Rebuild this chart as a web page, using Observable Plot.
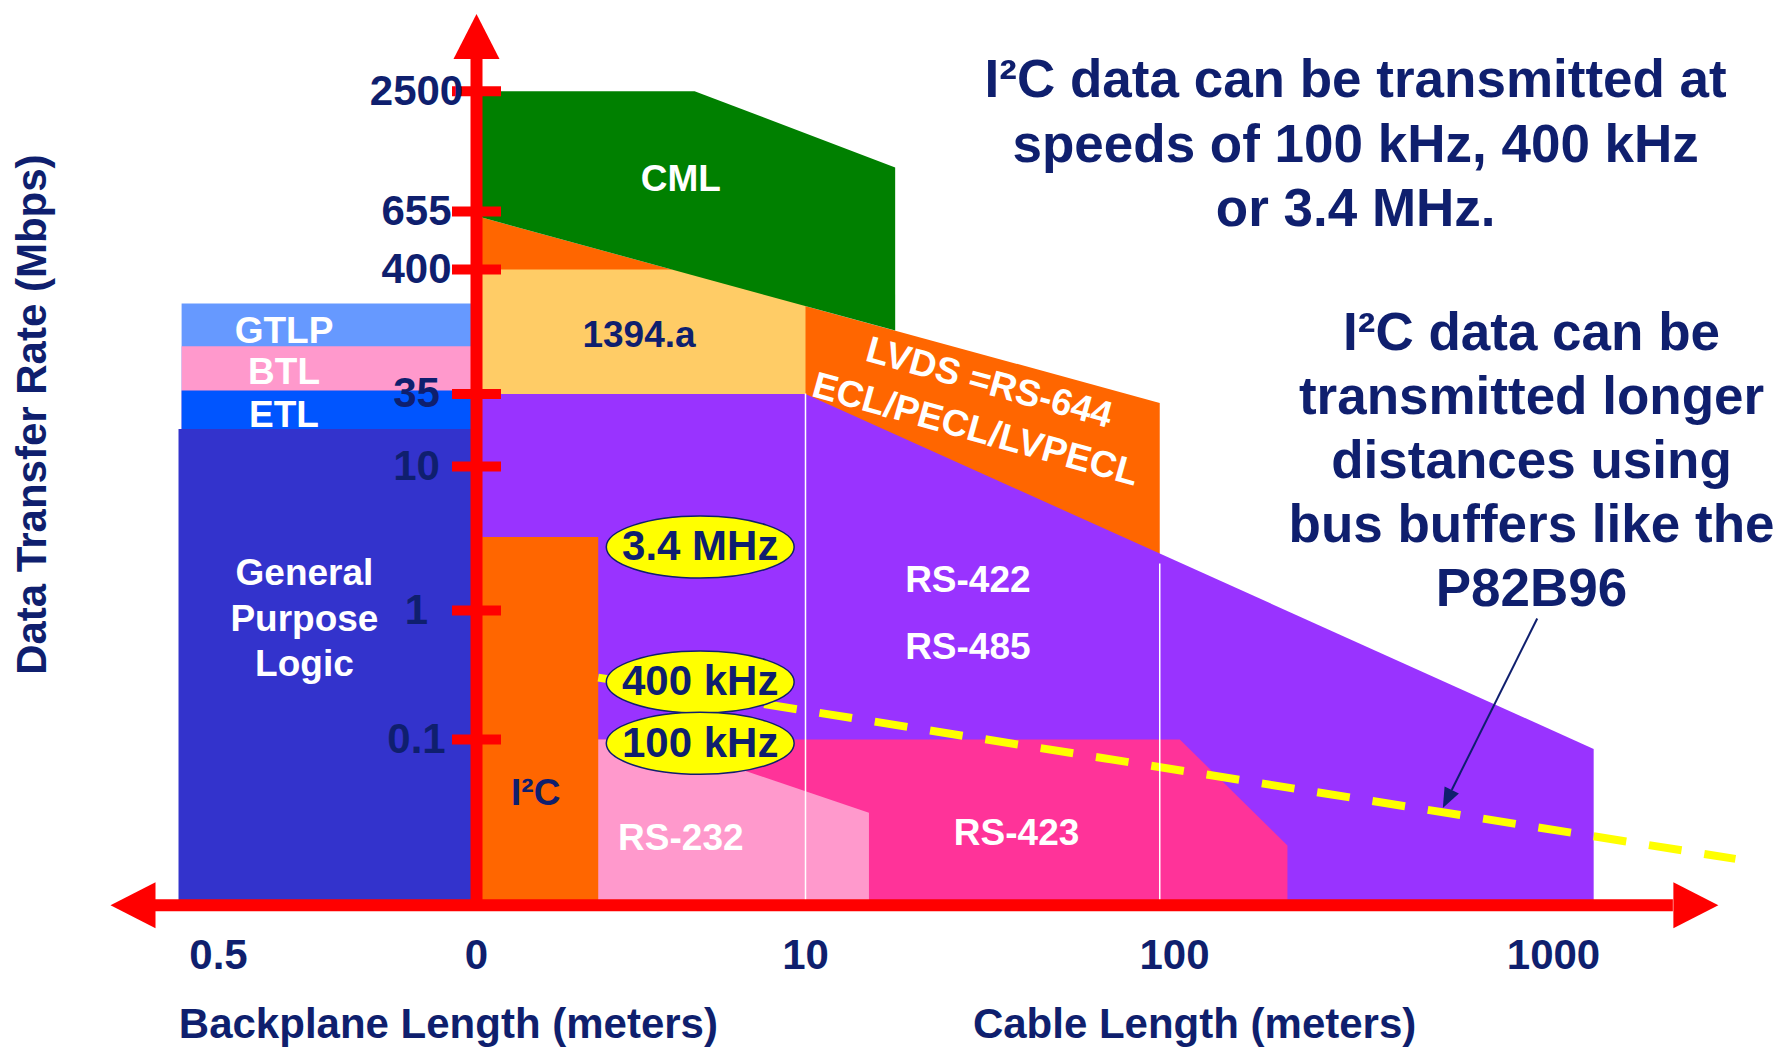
<!DOCTYPE html>
<html>
<head>
<meta charset="utf-8">
<script src="https://cdn.jsdelivr.net/npm/d3@7"></script>
<script src="https://cdn.jsdelivr.net/npm/@observablehq/plot@0.6"></script>
<style>
html, body { margin: 0; padding: 0; background: #ffffff; }
#chart svg { display: block; }
</style>
</head>
<body>
<div id="chart"></div>
<script>
// ---------------- DATA ----------------
// x: schematic axis position — -1 = 0.5 m backplane, 0 = origin, 1 = 10 m, 2 = 100 m, 3 = 1000 m cable
const xTickPos = [-1, 0, 1, 2, 3];
const xTickLabels = ["0.5", "0", "10", "100", "1000"];
// y: data transfer rate in Mbps
const yTickValues = [0.1, 1, 10, 35, 400, 655, 2500];
const yTickLabels = ["0.1", "1", "10", "35", "400", "655", "2500"];
const yFloor = 0.0052;           // rate at the horizontal axis
const axisTipTop = 5898;         // rate at the tip of the vertical arrow
const axisTipLeft = -1.4186;     // x position of the left arrow tip
const axisTipRight = 3.435;      // x position of the right arrow tip

// regions as [x position, Mbps] outlines
const gtlpShape  = [[-1.143, yFloor], [-1.143, 206], [0, 206], [0, yFloor]];
const btlShape   = [[-1.143, yFloor], [-1.143, 89], [0, 89], [0, yFloor]];
const etlShape   = [[-1.143, yFloor], [-1.143, 37.5], [0, 37.5], [0, yFloor]];
const gplShape   = [[-1.155, yFloor], [-1.155, 19.1], [0, 19.1], [0, yFloor]];
const lvdsShape  = [[0, 630], [1.96, 30], [1.96, 2.3], [0, 2.3]];
const fw1394Shape = [[0, 30], [0, 400], [1, 400], [1, 30]];
const rs422Shape = [[0, 35], [1, 35], [3.106, 0.0845], [3.106, yFloor], [0, yFloor]];
const cmlShape   = [[0, 630], [0, 2500], [0.663, 2500], [1.243, 1070], [1.243, 121]];
const rs423Shape = [[0.3, yFloor], [0.3, 0.1], [2.014, 0.1], [2.298, 0.0151], [2.298, yFloor]];
const rs232Shape = [[0.3, yFloor], [0.3, 0.1], [0.535, 0.1], [1.172, 0.027], [1.172, yFloor]];
const i2cShape   = [[0, yFloor], [0, 3.24], [0.37, 3.24], [0.37, yFloor]];
const busBufferLine = [[0.37, 0.302], [3.48, 0.01187]];
const separators = [{x: 1, top: 35}, {x: 1.96, top: 2.1}];
const speedBubbles = [
  {x: 0.68, y: 2.76, label: "3.4 MHz"},
  {x: 0.68, y: 0.279, label: "400 kHz"},
  {x: 0.68, y: 0.0934, label: "100 kHz"}
];
const pointerFrom = [2.957, 0.867];
const pointerTip = [2.708, 0.0295];

const whiteLabels = [
  {x: 0.621, y: 970, text: "CML"},
  {x: -0.746, y: 127, text: "GTLP"},
  {x: -0.746, y: 57, text: "BTL"},
  {x: -0.746, y: 25.6, text: "ETL"},
  {x: -0.667, y: 0.902, text: "General\nPurpose\nLogic"},
  {x: 0.621, y: 0.018, text: "RS-232"},
  {x: 1.44, y: 1.69, text: "RS-422"},
  {x: 1.44, y: 0.544, text: "RS-485"},
  {x: 1.572, y: 0.0197, text: "RS-423"}
];
const navyLabels = [
  {x: 0.494, y: 111, text: "1394.a"},
  {x: 0.18, y: 0.0384, text: "I²C"}
];
const slantedLabels = [
  {x: 1.498, y: 43.6, text: "LVDS =RS-644"},
  {x: 1.461, y: 19, text: "ECL/PECL/LVPECL"}
];
const notes = [
  {x: 2.478, y: 1435, text: "I²C data can be transmitted at\nspeeds of 100 kHz, 400 kHz\nor 3.4 MHz."},
  {x: 2.942, y: 11.7, text: "I²C data can be\ntransmitted longer\ndistances using\nbus buffers like the\nP82B96"}
];
const xTitles = [
  {x: -0.109, text: "Backplane Length (meters)"},
  {x: 2.053, text: "Cable Length (meters)"}
];
const yTitle = [{x: -1.721, y: 24.5, text: "Data Transfer Rate (Mbps)"}];

// ---------------- STYLE ----------------
const navy = "#0f1f6e";
const red = "#ff0000";
const font = "'Liberation Sans', Arial, Helvetica, sans-serif";
const fill = {
  gtlp: "#6699ff", btl: "#ff99cc", etl: "#0055ff", gpl: "#3333cc",
  lvds: "#ff6600", fw1394: "#ffcc66", rs422: "#9933ff", cml: "#008000",
  rs423: "#ff3399", rs232: "#ff99cc", i2c: "#ff6600", yellow: "#ffff00"
};
const xScale = {type: "linear", domain: xTickPos, range: [218, 476, 805, 1174, 1553], axis: null};
const yScale = {type: "log", domain: yTickValues, range: [739, 610, 466, 393.5, 269, 211, 90.7], axis: null};

// helpers working through the scales
const X = Plot.scale({x: xScale});
const Y = Plot.scale({y: yScale});
const toPx = ([a, b]) => [X.apply(a), Y.apply(b)];
const toData = ([a, b]) => [X.invert(a), Y.invert(b)];
function arrowHead(from, tip, len, half) {
  const [x0, y0] = toPx(from), [x1, y1] = toPx(tip);
  const d = Math.hypot(x1 - x0, y1 - y0), ux = (x1 - x0) / d, uy = (y1 - y0) / d;
  const bx = x1 - ux * len, by = y1 - uy * len;
  return {
    head: [[x1, y1], [bx - uy * half, by + ux * half], [bx + uy * half, by - ux * half]].map(toData),
    base: toData([bx, by])
  };
}
function offsetX(x, dpx) { return X.invert(X.apply(x) + dpx); }

const poly = (pts, color) => Plot.line(pts, {x: d => d[0], y: d => d[1], fill: color, stroke: "none"});

const ellipse = {
  draw(ctx, size) {
    const ry = Math.sqrt(size / Math.PI), rx = ry * 3.03, k = 0.5523;
    ctx.moveTo(rx, 0);
    ctx.bezierCurveTo(rx, k * ry, k * rx, ry, 0, ry);
    ctx.bezierCurveTo(-k * rx, ry, -rx, k * ry, -rx, 0);
    ctx.bezierCurveTo(-rx, -k * ry, -k * rx, -ry, 0, -ry);
    ctx.bezierCurveTo(k * rx, -ry, rx, -k * ry, rx, 0);
    ctx.closePath();
  }
};

const upArrow = arrowHead([0, yFloor], [0, axisTipTop], 45, 23);
const leftArrow = arrowHead([axisTipRight, yFloor], [axisTipLeft, yFloor], 45, 23);
const rightArrow = arrowHead([axisTipLeft, yFloor], [axisTipRight, yFloor], 45, 23);
const pointer = arrowHead(pointerFrom, pointerTip, 20, 8);

const txt = {fontFamily: font, fontWeight: "bold"};

const chart = Plot.plot({
  width: 1778,
  height: 1047,
  margin: 0,
  style: {background: "#ffffff", fontFamily: font},
  x: xScale,
  y: yScale,
  marks: [
    poly(gtlpShape, fill.gtlp),
    poly(btlShape, fill.btl),
    poly(etlShape, fill.etl),
    poly(gplShape, fill.gpl),
    poly(lvdsShape, fill.lvds),
    poly(fw1394Shape, fill.fw1394),
    poly(rs422Shape, fill.rs422),
    poly(cmlShape, fill.cml),
    poly(rs423Shape, fill.rs423),
    poly(rs232Shape, fill.rs232),
    poly(i2cShape, fill.i2c),
    Plot.line(busBufferLine, {x: d => d[0], y: d => d[1], stroke: fill.yellow, strokeWidth: 8, strokeDasharray: "33 23", strokeLinecap: "butt"}),
    Plot.ruleX(separators, {x: "x", y1: yFloor, y2: "top", stroke: "#ffffff", strokeWidth: 1.5}),
    // pointer arrow
    Plot.link([0], {x1: pointerFrom[0], y1: pointerFrom[1], x2: pointer.base[0], y2: pointer.base[1], stroke: navy, strokeWidth: 2}),
    poly(pointer.head, navy),
    // speed bubbles
    Plot.dot(speedBubbles, {x: "x", y: "y", r: 31, symbol: ellipse, fill: fill.yellow, stroke: navy, strokeWidth: 1.5}),
    Plot.text(speedBubbles, {x: "x", y: "y", text: "label", fill: navy, fontSize: 42, ...txt}),
    // axes
    Plot.ruleX([0], {y1: yFloor, y2: upArrow.base[1], stroke: red, strokeWidth: 12}),
    Plot.ruleY([yFloor], {x1: leftArrow.base[0], x2: rightArrow.base[0], stroke: red, strokeWidth: 12}),
    poly(upArrow.head, red),
    poly(leftArrow.head, red),
    poly(rightArrow.head, red),
    Plot.ruleY(yTickValues, {x1: offsetX(0, -24), x2: offsetX(0, 25), stroke: red, strokeWidth: 10}),
    Plot.text(yTickValues, {x: 0, y: d => d, text: (d, i) => yTickLabels[i], dx: -60, textAnchor: "middle", fill: navy, fontSize: 42, ...txt}),
    Plot.text(xTickPos, {x: d => d, y: yFloor, text: (d, i) => xTickLabels[i], dy: 50, fill: navy, fontSize: 42, ...txt}),
    Plot.text(xTitles, {x: "x", y: yFloor, text: "text", dy: 119, fill: navy, fontSize: 42, ...txt}),
    Plot.text(yTitle, {x: "x", y: "y", text: "text", rotate: -90, fill: navy, fontSize: 42, ...txt}),
    // region labels
    Plot.text(whiteLabels, {x: "x", y: "y", text: "text", fill: "#ffffff", fontSize: 37, lineHeight: 1.23, ...txt}),
    Plot.text(navyLabels, {x: "x", y: "y", text: "text", fill: navy, fontSize: 37, ...txt}),
    Plot.text(slantedLabels, {x: "x", y: "y", text: "text", rotate: 15.5, fill: "#ffffff", fontSize: 37, ...txt}),
    Plot.text(notes, {x: "x", y: "y", text: "text", fill: navy, fontSize: 53, lineHeight: 1.21, ...txt})
  ]
});
document.getElementById("chart").appendChild(chart);
</script>
</body>
</html>
